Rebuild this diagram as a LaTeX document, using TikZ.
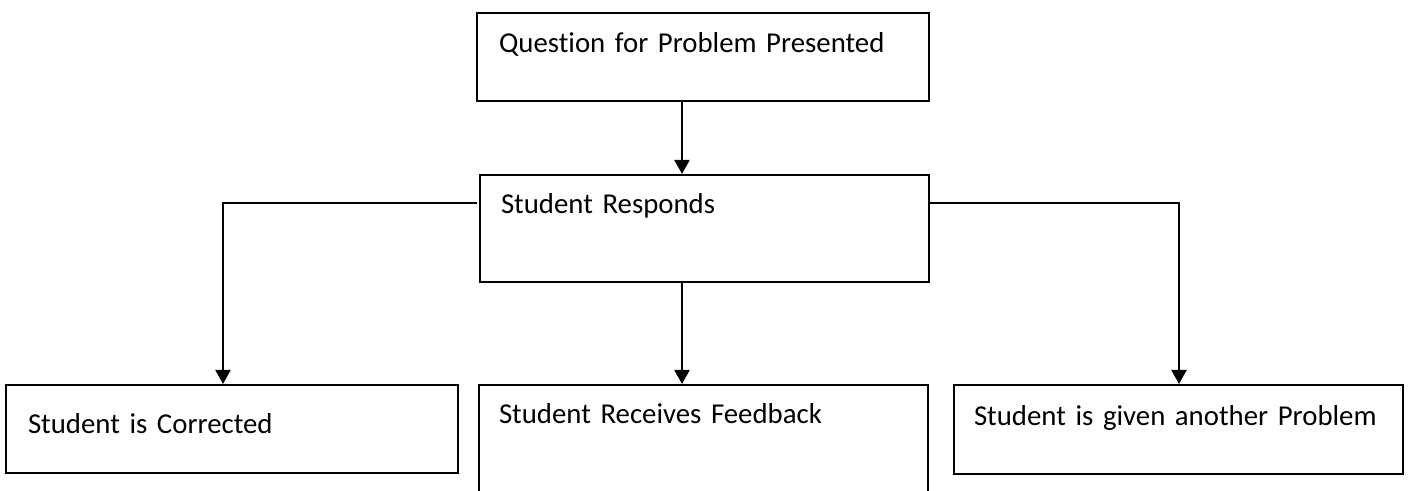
\documentclass[tikz,border=0pt]{standalone}
\usepackage{fontspec}
\setmainfont{Carlito}[Ligatures=NoCommon]
\usepackage{tikz}
\usetikzlibrary{arrows.meta}

\begin{document}
\begin{tikzpicture}[>={Triangle[width=7.5pt,length=7pt]},x=0.5pt,y=-0.5pt,
	line width=1pt,box node/.style={draw, rectangle, anchor=north west, align=left,
	inner ysep=0pt, inner xsep=10.5pt, text width=203.5pt,
	font=\fontsize{14.4}{17}\selectfont}]
	
	\useasboundingbox (0,0) rectangle (1408,491);
	\clip (0,0) rectangle (1408,491);
	
	\node[box node, inner xsep=11pt, text width=204pt, text height=20pt, text depth=24pt] (q) at (476,12) {Question for Problem Presented};
	\node[box node, text height=19.5pt, text depth=34pt] (r) at (479,174) {Student Responds};
	
	\node[box node, inner xsep=11pt, text width=204pt, text height=24.5pt, text depth=19.5pt] (c) at (5,384) {Student is Corrected};
	\node[box node, inner xsep=10pt, text width=204.5pt, text height=19.5pt, text depth=50pt] (f) at (478,384) {Student Receives Feedback};
	\node[box node, inner xsep=10pt, text width=204.5pt, text height=20.5pt, text depth=24pt] (p) at (953,384) {Student is given another Problem};
	
	\coordinate (mid) at (682,0);
	\coordinate (lvl) at (0,203);
	\coordinate (cl) at (223,0);
	\coordinate (cr) at (1179,0);
	
	\draw [->] (q.south -| mid) -- (r.north -| mid);
	\draw [->] (r.south -| mid) -- (f.north -| mid);
	\draw [->] ([xshift=-1pt]r.west |- lvl) -| (c.north -| cl);
	\draw [->] (r.east |- lvl) -| (p.north -| cr);
\end{tikzpicture}
\end{document}
